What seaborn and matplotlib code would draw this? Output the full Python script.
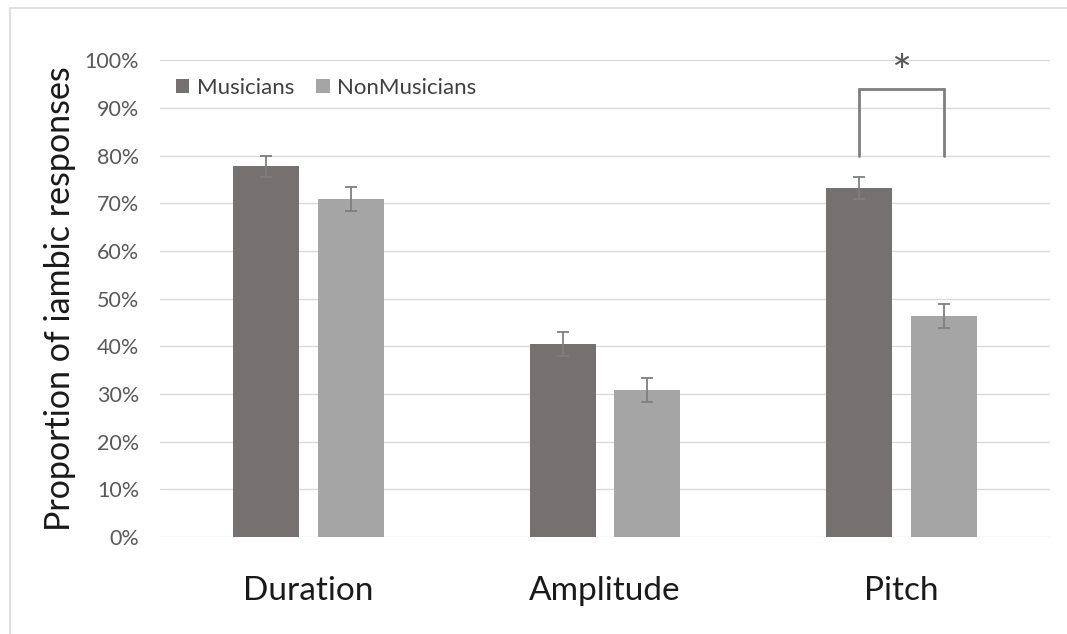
import matplotlib
matplotlib.use("Agg")
import matplotlib.pyplot as plt
import seaborn as sns
import pandas as pd
import numpy as np
from matplotlib.patches import Rectangle

categories = ["Duration", "Amplitude", "Pitch"]
groups = ["Musicians", "NonMusicians"]
musicians = [77.8, 40.5, 73.2]
nonmusicians = [70.9, 30.8, 46.3]
musicians_err = [2.2, 2.5, 2.4]
nonmusicians_err = [2.6, 2.5, 2.5]
yticks = [0, 10, 20, 30, 40, 50, 60, 70, 80, 90, 100]
ytick_labels = [f"{v}%" for v in yticks]
sig_bracket = (80, 94)  # bottom, top of bracket in %
sig_label = "*"

df = pd.DataFrame({
    "category": categories * 2,
    "group": [groups[0]] * 3 + [groups[1]] * 3,
    "value": musicians + nonmusicians,
    "err": musicians_err + nonmusicians_err,
})

sns.set_theme(style="white")
plt.rcParams["font.family"] = ["Lato", "DejaVu Sans"]

fig = plt.figure(figsize=(10.67, 6.34), dpi=100)
ax = fig.add_axes([0.150, 0.153, 0.834, 0.752])

palette = {"Musicians": "#767171", "NonMusicians": "#a5a5a5"}
sns.barplot(data=df, x="category", y="value", hue="group", order=categories,
            hue_order=groups, palette=palette, width=0.57, gap=0.22,
            errorbar=None, saturation=1, ax=ax, zorder=2, linewidth=0)

# error bars at bar centers
for gi, (g, errs, vals) in enumerate([(groups[0], musicians_err, musicians),
                                       (groups[1], nonmusicians_err, nonmusicians)]):
    cont = ax.containers[gi]
    xs = [p.get_x() + p.get_width() / 2 for p in cont.patches]
    ax.errorbar(xs, vals, yerr=errs, fmt="none", ecolor="#7f7f7f",
                elinewidth=1.3, capsize=4, capthick=1.3, zorder=3)

ax.set_xlim(-0.5, 2.5)
ax.set_ylim(0, 100)
ax.set_yticks(yticks)
ax.set_yticklabels(ytick_labels, fontsize=15.5, color="#595959")
ax.tick_params(axis="y", length=0, pad=15)
ax.tick_params(axis="x", length=0, pad=28, labelsize=24, labelcolor="#1a1a1a")
ax.yaxis.grid(True, color="#d9d9d9", linewidth=1)
ax.set_axisbelow(True)
for s in ax.spines.values():
    s.set_visible(False)
ax.set_xlabel("")
ax.set_ylabel("Proportion of iambic responses", fontsize=24.5, color="#1a1a1a", labelpad=6)

# significance bracket on Pitch
pc = ax.containers
xl = pc[0].patches[2].get_x() + pc[0].patches[2].get_width() / 2
xr = pc[1].patches[2].get_x() + pc[1].patches[2].get_width() / 2
b, t = sig_bracket
ax.plot([xl, xl, xr, xr], [b, t, t, b], color="#7f7f7f", linewidth=2, zorder=4,
        solid_joinstyle="miter")
ax.text((xl + xr) / 2, t - 1.5, sig_label, ha="center", va="bottom",
        fontsize=34, color="#595959")

# legend
leg = ax.legend(loc="upper left", bbox_to_anchor=(0.0, 0.995), ncol=2, frameon=False,
                fontsize=16, handlelength=0.6, handleheight=0.6, handletextpad=0.35,
                columnspacing=1.0, borderaxespad=0.3)
for txt in leg.get_texts():
    txt.set_color("#404040")

# outer frame
fig.patches.append(Rectangle((10 / 1067, -0.01), 1.2, 1 - 8 / 634 + 0.01,
                             transform=fig.transFigure, fill=False,
                             edgecolor="#d9d9d9", linewidth=1.2))

fig.savefig("out.png", dpi=100)
